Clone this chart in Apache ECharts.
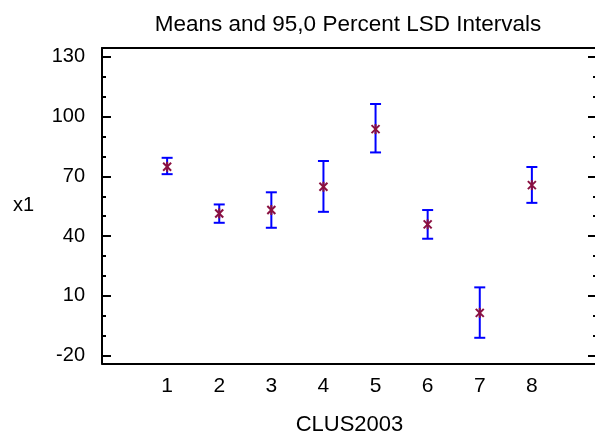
<!DOCTYPE html>
<html>
<head>
<meta charset="utf-8">
<script src="https://cdn.jsdelivr.net/npm/echarts@6/dist/echarts.min.js"></script>
<style>
html,body{margin:0;padding:0;background:#fff;}
#chart{width:595px;height:433px;}
</style>
</head>
<body>
<div id="chart"></div>
<script>
const categories = [1, 2, 3, 4, 5, 6, 7, 8];
const means = [74.8, 51.4, 53.1, 64.8, 93.7, 45.9, 1.5, 65.6];
const lower = [71.1, 46.7, 44.2, 52.2, 82.0, 38.7, -11.0, 56.7];
const upper = [79.3, 55.9, 62.0, 77.7, 106.3, 53.1, 14.3, 74.7];
const yTickLabels = [-20, 10, 40, 70, 100, 130];
const yMinorTicks = [-20, -10, 0, 10, 20, 30, 40, 50, 60, 70, 80, 90, 100, 110, 120, 130];
const xTickLabels = [1, 2, 3, 4, 5, 6, 7, 8];

const Y_MIN = -23.9, Y_MAX = 134.4;
const X_MIN = -0.25, X_MAX = 9.25;
const FONT = 'Liberation Sans, Arial, Helvetica, sans-serif';
const BAR_COLOR = '#0000ff';
const MEAN_COLOR = '#8a1040';

const chart = echarts.init(document.getElementById('chart'), null, {renderer: 'canvas'});

const gridBox = {left: 102, right: -2, top: 48, bottom: 69.5, containLabel: false, outerBoundsMode: 'none'};

function yAxisBase(pos, gridIndex) {
  return {
    type: 'value', gridIndex: gridIndex, position: pos, min: Y_MIN, max: Y_MAX, offset: 0,
    splitLine: {show: false},
    axisLine: {show: false, onZero: false},
    axisLabel: {show: false},
    axisTick: {show: false}
  };
}

const option = {
  backgroundColor: '#fff',
  animation: false,
  title: {
    text: 'Means and 95,0 Percent LSD Intervals',
    left: 343, top: 8, textAlign: 'center',
    textStyle: {fontFamily: FONT, fontSize: 22.5, fontWeight: 'normal', color: '#000'}
  },
  grid: [Object.assign({}, gridBox), Object.assign({}, gridBox)],
  xAxis: [
    {
      type: 'value', gridIndex: 0, position: 'bottom', min: X_MIN, max: X_MAX,
      splitLine: {show: false},
      axisLine: {show: true, onZero: false, lineStyle: {color: '#000', width: 2}},
      axisTick: {show: false},
      axisLabel: {customValues: xTickLabels, fontFamily: FONT, fontSize: 21, color: '#000', margin: 12},
      name: 'CLUS2003', nameLocation: 'middle', nameGap: 50,
      nameTextStyle: {fontFamily: FONT, fontSize: 22, color: '#000'}
    },
    {
      type: 'value', gridIndex: 0, position: 'top', min: X_MIN, max: X_MAX,
      splitLine: {show: false},
      axisLine: {show: true, onZero: false, lineStyle: {color: '#000', width: 2}},
      axisTick: {show: false},
      axisLabel: {show: false}
    },
    {
      type: 'value', gridIndex: 1, position: 'bottom', min: X_MIN, max: X_MAX,
      splitLine: {show: false}, axisLine: {show: false, onZero: false}, axisTick: {show: false}, axisLabel: {show: false}
    }
  ],
  yAxis: [
    Object.assign(yAxisBase('left', 0), {
      axisLine: {show: true, onZero: false, lineStyle: {color: '#000', width: 2}},
      axisTick: {show: true, inside: true, length: 9, customValues: yTickLabels, lineStyle: {color: '#000', width: 2}},
      axisLabel: {show: true, customValues: yTickLabels, fontFamily: FONT, fontSize: 20, color: '#000', margin: 17},
      name: 'x1', nameLocation: 'middle', nameRotate: 0, nameGap: 68,
      nameTextStyle: {fontFamily: FONT, fontSize: 20, color: '#000'}
    }),
    Object.assign(yAxisBase('right', 0), {
      axisTick: {show: true, inside: true, length: 9, customValues: yTickLabels, lineStyle: {color: '#000', width: 2}}
    }),
    Object.assign(yAxisBase('left', 1), {
      axisTick: {show: true, inside: true, length: 4, customValues: yMinorTicks, lineStyle: {color: '#000', width: 2}}
    }),
    Object.assign(yAxisBase('right', 1), {
      axisTick: {show: true, inside: true, length: 4, customValues: yMinorTicks, lineStyle: {color: '#000', width: 2}}
    })
  ],
  series: [
    {
      type: 'custom',
      xAxisIndex: 0, yAxisIndex: 0,
      data: categories.map((c, i) => [c, lower[i], upper[i]]),
      encode: {x: 0, y: [1, 2]},
      renderItem: function (params, api) {
        const x = api.value(0);
        const lo = api.coord([x, api.value(1)]);
        const hi = api.coord([x, api.value(2)]);
        const hw = 5.5;
        const style = {stroke: BAR_COLOR, lineWidth: 2};
        return {
          type: 'group',
          children: [
            {type: 'line', shape: {x1: lo[0], y1: lo[1], x2: hi[0], y2: hi[1]}, style: style},
            {type: 'line', shape: {x1: lo[0] - hw, y1: lo[1], x2: lo[0] + hw, y2: lo[1]}, style: style},
            {type: 'line', shape: {x1: hi[0] - hw, y1: hi[1], x2: hi[0] + hw, y2: hi[1]}, style: style}
          ]
        };
      },
      z: 2
    },
    {
      type: 'custom',
      xAxisIndex: 0, yAxisIndex: 0,
      data: categories.map((c, i) => [c, means[i]]),
      encode: {x: 0, y: 1},
      renderItem: function (params, api) {
        const p = api.coord([api.value(0), api.value(1)]);
        const style = {stroke: MEAN_COLOR, lineWidth: 2};
        return {
          type: 'group',
          children: [
            {type: 'line', shape: {x1: p[0], y1: p[1] - 5, x2: p[0], y2: p[1] + 5}, style: style},
            {type: 'line', shape: {x1: p[0] - 4, y1: p[1] - 4, x2: p[0] + 4, y2: p[1] + 4}, style: style},
            {type: 'line', shape: {x1: p[0] - 4, y1: p[1] + 4, x2: p[0] + 4, y2: p[1] - 4}, style: style}
          ]
        };
      },
      z: 3
    }
  ]
};
chart.setOption(option);
</script>
</body>
</html>
